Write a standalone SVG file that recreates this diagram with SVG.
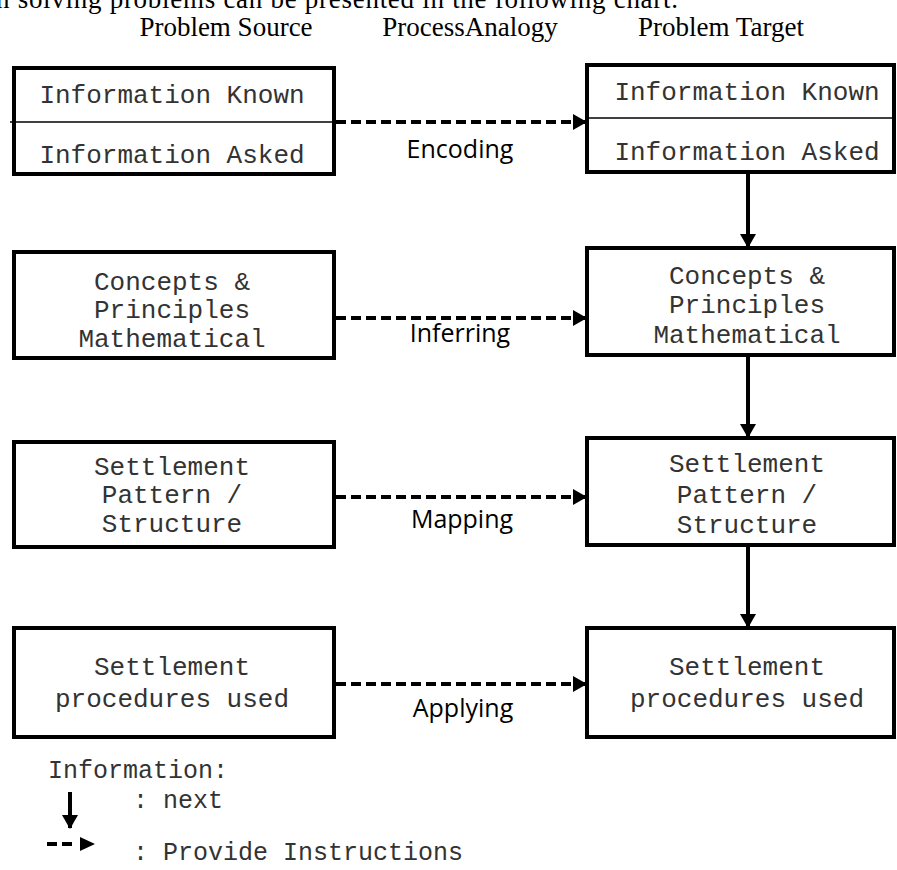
<svg xmlns="http://www.w3.org/2000/svg" width="897" height="870" viewBox="0 0 897 870">
<style>
.box{fill:#fff;stroke:#000;stroke-width:4}
.div{stroke:#000;stroke-width:1.3}
.mono{font-family:"Liberation Mono","Courier New",monospace;font-size:26px;fill:#333;text-anchor:middle}
.leg{font-family:"Liberation Mono","Courier New",monospace;font-size:25px;fill:#333}
.hdr{font-family:"Liberation Serif","Times New Roman",serif;font-size:27px;fill:#000;text-anchor:middle}
.lbl{font-family:"Open Sans","Liberation Sans",sans-serif;font-size:25px;fill:#000;text-anchor:middle}
.dash{stroke:#000;stroke-width:4;stroke-dasharray:10 5;fill:none}
.solid{stroke:#000;stroke-width:4;fill:none}
</style>
<defs>
<marker id="tri" markerUnits="userSpaceOnUse" markerWidth="14" markerHeight="16" refX="13" refY="8" orient="auto">
<path d="M0,0 L14,8 L0,16 Z" fill="#000"/>
</marker>
</defs>
<rect width="897" height="870" fill="#fff"/>
<text x="-4" y="8" font-family="Liberation Serif, serif" font-size="27" textLength="682" lengthAdjust="spacing">n solving problems can be presented in the following chart.</text>
<g id="headers">
<text class="hdr" x="226" y="36">Problem Source</text>
<text class="hdr" x="470" y="36">ProcessAnalogy</text>
<text class="hdr" x="721" y="36">Problem Target</text>
</g>
<g id="src-info">
<rect class="box" x="14" y="68" width="320" height="106"/>
<line class="div" x1="10" y1="122" x2="334" y2="122"/>
<text class="mono" x="172" y="103">Information Known</text>
<text class="mono" x="172" y="163">Information Asked</text>
</g>
<g id="tgt-info">
<rect class="box" x="587" y="65" width="307" height="107"/>
<line class="div" x1="587" y1="118" x2="894" y2="118"/>
<text class="mono" x="747" y="100">Information Known</text>
<text class="mono" x="747" y="160">Information Asked</text>
</g>
<g id="src-concepts">
<rect class="box" x="14" y="252" width="320" height="106"/>
<text class="mono" x="172" y="290">Concepts &amp;</text>
<text class="mono" x="172" y="318">Principles</text>
<text class="mono" x="172" y="347">Mathematical</text>
</g>
<g id="tgt-concepts">
<rect class="box" x="587" y="248" width="307" height="107"/>
<text class="mono" x="747" y="284">Concepts &amp;</text>
<text class="mono" x="747" y="313">Principles</text>
<text class="mono" x="747" y="343">Mathematical</text>
</g>
<g id="src-pattern">
<rect class="box" x="14" y="442" width="320" height="105"/>
<text class="mono" x="172" y="475">Settlement</text>
<text class="mono" x="172" y="503">Pattern /</text>
<text class="mono" x="172" y="532">Structure</text>
</g>
<g id="tgt-pattern">
<rect class="box" x="587" y="438" width="307" height="107"/>
<text class="mono" x="747" y="472">Settlement</text>
<text class="mono" x="747" y="503">Pattern /</text>
<text class="mono" x="747" y="533">Structure</text>
</g>
<g id="src-procedures">
<rect class="box" x="14" y="628" width="320" height="109"/>
<text class="mono" x="172" y="675">Settlement</text>
<text class="mono" x="172" y="707">procedures used</text>
</g>
<g id="tgt-procedures">
<rect class="box" x="587" y="628" width="307" height="109"/>
<text class="mono" x="747" y="675">Settlement</text>
<text class="mono" x="747" y="707">procedures used</text>
</g>
<g id="connectors">
<line class="dash" x1="336" y1="122" x2="586" y2="122" marker-end="url(#tri)"/>
<line class="dash" x1="336" y1="318" x2="586" y2="318" marker-end="url(#tri)"/>
<line class="dash" x1="336" y1="497" x2="586" y2="497" marker-end="url(#tri)"/>
<line class="dash" x1="336" y1="684" x2="586" y2="684" marker-end="url(#tri)"/>
<line class="solid" x1="748" y1="172" x2="748" y2="247" marker-end="url(#tri)"/>
<line class="solid" x1="748" y1="357" x2="748" y2="437" marker-end="url(#tri)"/>
<line class="solid" x1="748" y1="545" x2="748" y2="627" marker-end="url(#tri)"/>
<text class="lbl" x="460" y="158">Encoding</text>
<text class="lbl" x="460" y="342">Inferring</text>
<text class="lbl" x="462" y="528">Mapping</text>
<text class="lbl" x="463" y="717">Applying</text>
</g>
<g id="legend">
<text class="leg" x="48" y="778">Information:</text>
<line class="solid" x1="70" y1="792" x2="70" y2="828" marker-end="url(#tri)"/>
<text class="leg" x="133" y="808">: next</text>
<line class="dash" x1="47" y1="844" x2="72" y2="844"/>
<path d="M80,837 L95,844 L80,851 Z" fill="#000"/>
<text class="leg" x="133" y="860">: Provide Instructions</text>
</g>
</svg>
